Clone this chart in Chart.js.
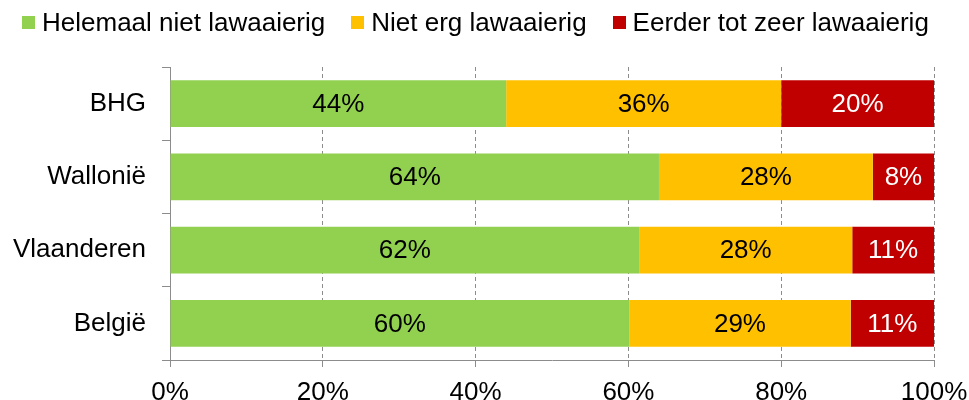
<!DOCTYPE html>
<html>
<head>
<meta charset="utf-8">
<script src="https://cdn.jsdelivr.net/npm/chart.js@4.4.1/dist/chart.umd.min.js"></script>
<style>
html,body{margin:0;padding:0;background:#fff}
#wrap{position:relative;width:969px;height:400px;overflow:hidden}
#lgd{position:absolute;left:22px;top:7px;display:flex;align-items:center;font:26px 'Liberation Sans',Arial,sans-serif;line-height:30px;color:#000;white-space:nowrap}
#lgd .it{display:flex;align-items:center;margin-right:26px}
#lgd .sw{width:13px;height:13px;margin-right:7px;margin-top:1px}
canvas{position:absolute;left:0;top:0}
</style>
</head>
<body>
<div id="wrap">
  <canvas id="c" width="969" height="400"></canvas>
  <div id="lgd"></div>
</div>
<script>
// regio's en aandelen (%)
const CATS=['BHG','Wallonië','Vlaanderen','België'];
const SERIES=['Helemaal niet lawaaierig','Niet erg lawaaierig','Eerder tot zeer lawaaierig'];
const NIET=[44,64,61.4,60.1];
const WEINIG=[36,28,27.9,29];
const LAWAAI=[20,8,10.7,10.9];
const NIET_LBL=['44%','64%','62%','60%'];
const WEINIG_LBL=['36%','28%','28%','29%'];
const LAWAAI_LBL=['20%','8%','11%','11%'];
const X_TICKS=[0,20,40,60,80,100];
const CLR=['#92D050','#FFC000','#C00000'];
const FONT="'Liberation Sans',Arial,sans-serif";

document.getElementById('lgd').innerHTML=SERIES.map((s,i)=>`<div class="it"><div class="sw" style="background:${CLR[i]}"></div><span>${s}</span></div>`).join('');

const lbls=[NIET_LBL,WEINIG_LBL,LAWAAI_LBL];
const barLabels={
  id:'barLabels',
  afterDatasetsDraw(chart){
    const ctx=chart.ctx;
    ctx.save();
    ctx.font='26px '+FONT;
    ctx.textAlign='center';ctx.textBaseline='middle';
    chart.data.datasets.forEach((ds,di)=>{
      chart.getDatasetMeta(di).data.forEach((el,i)=>{
        ctx.fillStyle=di===2?'#fff':'#000';
        ctx.fillText(lbls[di][i],(el.x+el.base)/2,el.y+1);
      });
    });
    ctx.restore();
  }
};

new Chart(document.getElementById('c').getContext('2d'),{
  type:'bar',
  data:{labels:CATS,datasets:[
    {label:SERIES[0],data:NIET,backgroundColor:CLR[0]},
    {label:SERIES[1],data:WEINIG,backgroundColor:CLR[1]},
    {label:SERIES[2],data:LAWAAI,backgroundColor:CLR[2]},
  ]},
  options:{
    indexAxis:'y',responsive:false,animation:false,
    barPercentage:0.64,categoryPercentage:1,
    layout:{padding:{top:67,right:35,left:0,bottom:0}},
    plugins:{legend:{display:false},tooltip:{enabled:false}},
    scales:{
      x:{stacked:true,min:0,max:100,
        afterBuildTicks:s=>{s.ticks=X_TICKS.map(v=>({value:v}));},
        afterFit:s=>{s.height=40;s.paddingLeft=0;s.paddingRight=0;},
        ticks:{callback:v=>v+'%',color:'#000',font:{family:FONT,size:26},padding:10,maxRotation:0},
        grid:{color:'#8c8c8c',tickColor:'#8c8c8c',tickLength:7,lineWidth:1},
        border:{color:'#8c8c8c',dash:[4,3]}},
      y:{stacked:true,
        afterFit:s=>{s.width=170;},
        ticks:{color:'#000',font:{family:FONT,size:26},padding:16},
        grid:{offset:true,drawOnChartArea:false,tickColor:'#8c8c8c',tickLength:8},
        border:{color:'#8c8c8c'}}
    }
  },
  plugins:[barLabels]
});
</script>
</body>
</html>
